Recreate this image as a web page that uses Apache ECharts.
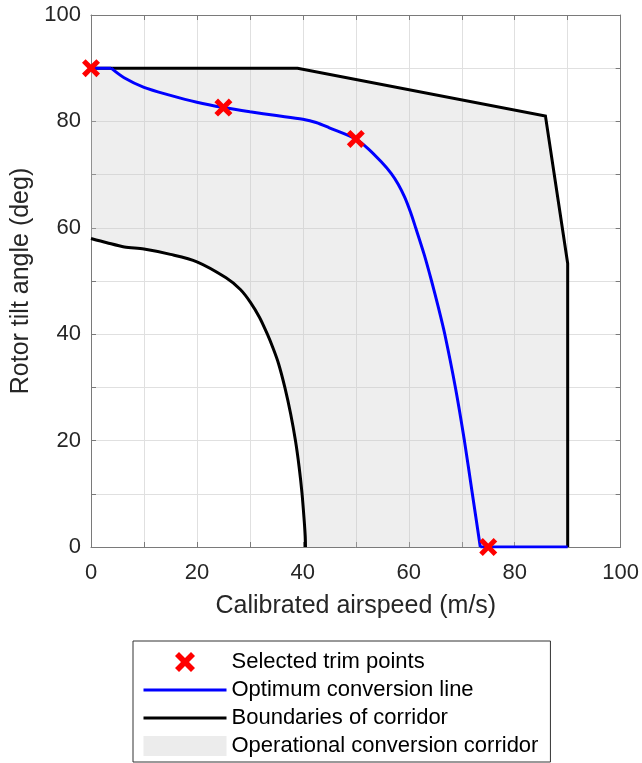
<!DOCTYPE html>
<html>
<head>
<meta charset="utf-8">
<script src="https://cdn.jsdelivr.net/npm/echarts@6/dist/echarts.min.js"></script>
<style>
  html, body { margin: 0; padding: 0; background: #ffffff; }
  #chart { width: 642px; height: 763px; }
</style>
</head>
<body>
<div id="chart"></div>
<script>
// Selected trim points
const trimSpeed = [0, 25, 50, 75];
const trimTilt = [90, 82.6, 76.7, 0];

// Optimum conversion line: level start, curved transition, level end
const optStartSpeed = [0, 3.8];
const optStartTilt = [90, 90];
const optCurveSpeed = [3.8, 6.25, 10, 15, 20, 25, 30, 35, 40, 42.5, 45, 50,
  52.3, 54.8, 56.7, 58.0, 59.2, 60.3, 61.3, 62.9, 64.3, 65.6, 66.8, 68.8, 70.5, 72.0, 73.5];
const optCurveTilt = [90, 88.2, 86.4, 84.9, 83.6, 82.6, 81.8, 81.1, 80.4, 79.8, 78.8, 76.7,
  74.9, 72.4, 70.2, 68.2, 65.8, 63.0, 60.0, 55.0, 50.0, 45.0, 40.0, 30.0, 20.0, 10.0, 0];
const optEndSpeed = [73.5, 90];
const optEndTilt = [0, 0];

// Lower boundary of corridor
const lowSpeed = [0, 3, 6.3, 10, 15, 20, 25.5, 28.2, 30.1, 31.8, 33.3, 34.4, 35.4, 36.6, 37.7,
  38.6, 39.3, 39.85, 40.25, 40.45, 40.5];
const lowTilt = [58, 57.2, 56.4, 56.0, 55.0, 53.6, 50.6, 48.4, 46.0, 43.2, 40.0, 37.3, 34.5, 30.0, 25.0,
  20.0, 15.0, 10.0, 5.0, 2.0, 0];

// Upper boundary of corridor
const upSpeed = [0, 39, 85.8, 90, 90];
const upTilt = [90, 90, 81, 53.3, 0];

// Axis ticks
const axisMin = 0;
const axisMax = 100;
const tickStep = 10;
const labelStep = 20;

const zip = (xs, ys) => xs.map((x, i) => [x, ys[i]]);
const lowPts = zip(lowSpeed, lowTilt);
const upPts = zip(upSpeed, upTilt);
const trimPts = zip(trimSpeed, trimTilt);
// Closed corridor outline: lower boundary out to the right, then back along the upper boundary
const corridorPts = lowPts.concat(upPts.slice().reverse());

const FONT = '"Liberation Sans", Arial, Helvetica, sans-serif';
const frameColor = '#7a7a7a';
const crossPath = 'path://M2,0 L5,3 L8,0 L10,2 L7,5 L10,8 L8,10 L5,7 L2,10 L0,8 L3,5 L0,2 Z';
const blue = '#0000ff';
const red = '#ff0000';

const mainAxis = {
  type: 'value', min: axisMin, max: axisMax, interval: tickStep,
  axisLine: { show: true, lineStyle: { color: frameColor, width: 1 } },
  axisTick: { show: true, inside: true, length: 5, lineStyle: { color: frameColor } },
  splitLine: { show: true, lineStyle: { color: '#e0e0e0', width: 1 } },
  axisLabel: {
    color: '#262626', fontSize: 22, fontFamily: FONT,
    formatter: v => (v % labelStep === 0 ? String(v) : '')
  },
  nameLocation: 'middle',
  nameTextStyle: { color: '#262626', fontSize: 25, fontFamily: FONT }
};
const frameAxis = {
  type: 'value', min: axisMin, max: axisMax, interval: tickStep,
  axisLine: { show: true, onZero: false, lineStyle: { color: frameColor, width: 1 } },
  axisTick: { show: true, inside: true, length: 5, lineStyle: { color: frameColor } },
  splitLine: { show: false },
  axisLabel: { show: false }
};

const chart = echarts.init(document.getElementById('chart'), null, { renderer: 'canvas' });
chart.setOption({
  backgroundColor: '#ffffff',
  animation: false,
  grid: { left: 91, top: 15, width: 533, height: 532, containLabel: false },
  xAxis: [
    Object.assign({}, mainAxis, {
      position: 'bottom', name: 'Calibrated airspeed (m/s)', nameGap: 47,
      axisLabel: Object.assign({}, mainAxis.axisLabel, { margin: 15 })
    }),
    Object.assign({}, frameAxis, { position: 'top' })
  ],
  yAxis: [
    Object.assign({}, mainAxis, {
      position: 'left', name: 'Rotor tilt angle (deg)', nameGap: 46,
      axisLabel: Object.assign({}, mainAxis.axisLabel, { margin: 10 })
    }),
    Object.assign({}, frameAxis, { position: 'right' })
  ],
  legend: {
    orient: 'vertical',
    left: 133, top: 641, height: 118,
    padding: [10, 12, 5, 9],
    itemWidth: 83, itemHeight: 20, itemGap: 6,
    backgroundColor: '#ffffff',
    borderColor: '#333333', borderWidth: 1,
    textStyle: { color: '#000000', fontSize: 22, fontFamily: FONT },
    data: [
      { name: 'Selected trim points', icon: crossPath, itemStyle: { color: red } },
      { name: 'Optimum conversion line', itemStyle: { opacity: 0 }, lineStyle: { color: blue, width: 3 } },
      { name: 'Boundaries of corridor', itemStyle: { opacity: 0 }, lineStyle: { color: '#000000', width: 3 } },
      { name: 'Operational conversion corridor', icon: 'rect', itemStyle: { color: '#ececec' } }
    ]
  },
  series: [
    {
      name: 'Operational conversion corridor',
      type: 'custom',
      z: 1,
      itemStyle: { color: '#ececec' },
      data: [[0, 0]],
      renderItem: function (params, api) {
        const points = corridorPts.map(p => api.coord(p));
        return {
          type: 'polygon',
          shape: { points: points },
          style: { fill: 'rgba(200,200,200,0.3)', stroke: 'none' }
        };
      }
    },
    {
      name: 'Boundaries of corridor',
      type: 'line', z: 3,
      data: upPts, symbol: 'none',
      lineStyle: { color: '#000000', width: 3, join: 'miter' },
      itemStyle: { color: '#000000' }
    },
    {
      name: 'Boundaries of corridor',
      type: 'line', z: 3,
      data: lowPts, symbol: 'none', smooth: 0.3,
      lineStyle: { color: '#000000', width: 3 },
      itemStyle: { color: '#000000' }
    },
    {
      name: 'Optimum conversion line',
      type: 'line', z: 4,
      data: zip(optStartSpeed, optStartTilt), symbol: 'none',
      lineStyle: { color: blue, width: 3 },
      itemStyle: { color: blue }
    },
    {
      name: 'Optimum conversion line',
      type: 'line', z: 4,
      data: zip(optCurveSpeed, optCurveTilt), symbol: 'none', smooth: 0.3,
      lineStyle: { color: blue, width: 3 },
      itemStyle: { color: blue }
    },
    {
      name: 'Optimum conversion line',
      type: 'line', z: 4,
      data: zip(optEndSpeed, optEndTilt), symbol: 'none',
      lineStyle: { color: blue, width: 3 },
      itemStyle: { color: blue }
    },
    {
      name: 'Selected trim points',
      type: 'scatter', z: 5,
      data: trimPts,
      symbol: crossPath, symbolSize: 18,
      clip: false,
      itemStyle: { color: red, opacity: 1 }
    }
  ]
});
</script>
</body>
</html>
